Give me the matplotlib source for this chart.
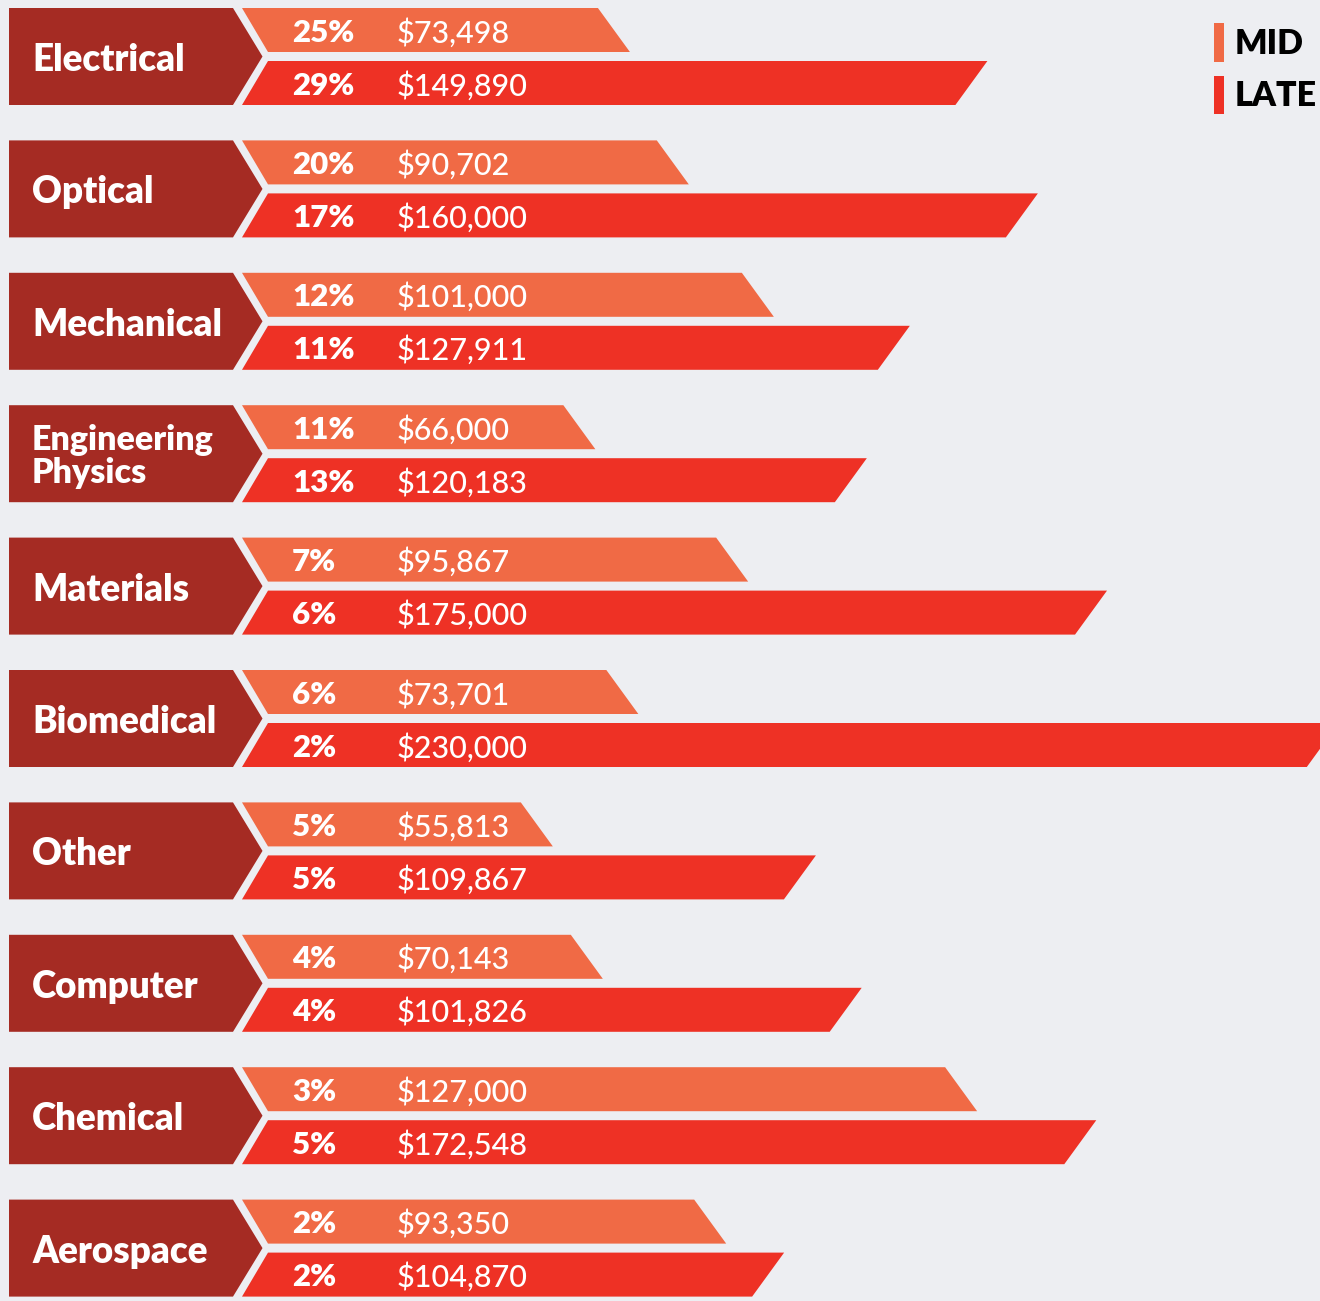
import matplotlib.pyplot as plt
from matplotlib.patches import Polygon, Rectangle

# categories, top to bottom
categories = ['Electrical', 'Optical', 'Mechanical', 'Engineering\nPhysics', 'Materials',
              'Biomedical', 'Other', 'Computer', 'Chemical', 'Aerospace']

# printed labels
mid_pct = ['25%', '20%', '12%', '11%', '7%', '6%', '5%', '4%', '3%', '2%']
late_pct = ['29%', '17%', '11%', '13%', '6%', '2%', '5%', '4%', '5%', '2%']
mid_salary = [73498, 90702, 101000, 66000, 95867, 73701, 55813, 70143, 127000, 93350]
late_salary = [149890, 160000, 127911, 120183, 175000, 230000, 109867, 101826, 172548, 104870]

# bar lengths as drawn in the graphic (in dollars;
# the artwork does not track the printed salaries exactly)
mid_bar = [73600, 86200, 104400, 66200, 98900, 75400, 57100, 67800, 147900, 94200]
late_bar = [150100, 160900, 133500, 124300, 175700, 225300, 113400, 123200, 173400, 106600]

BG = '#EDEEF2'
CAT_COLOR = '#A52B23'
MID_COLOR = '#F06A45'
LATE_COLOR = '#EE3125'

W, H = 1320, 1301
PX = 214.0           # dollars per pixel
ORIGIN_PX = 270      # pixel column of $0
PITCH = 132.4        # pixel height of one category group
TOP_PX = 8


def u(p):
    # pixel offset -> vertical data units (groups)
    return p / PITCH


fig = plt.figure(figsize=(W / 100, H / 100), dpi=100, facecolor=BG)
ax = fig.add_axes([0, 0, 1, 1])
ax.set_facecolor(BG)
ax.set_xlim(-ORIGIN_PX * PX, (W - ORIGIN_PX) * PX)
ax.set_ylim(u(H - TOP_PX), u(-TOP_PX))
ax.axis('off')

slant = 16 * PX
for i, cat in enumerate(categories):
    top = i
    mid_bot = i + u(44)
    late_top = i + u(53)
    bot = i + u(97)
    tip = i + u(48.5)

    # category chevron
    chev = Polygon([(-261 * PX, top), (-37 * PX, top), (-7.5 * PX, tip),
                    (-37 * PX, bot), (-261 * PX, bot)],
                   closed=True, facecolor=CAT_COLOR, edgecolor='none')
    ax.add_patch(chev)
    two_lines = '\n' in cat
    fs = 24.5 if two_lines else 26.5
    ax.text(-238 * PX, (top + bot) / 2 + u(2.5 if two_lines else 3.5), cat,
            color='white', fontsize=fs, fontweight='heavy', family='Lato',
            ha='left', va='center', linespacing=1.05)

    # mid bar
    m = mid_bar[i]
    ax.add_patch(Polygon([(-28 * PX, top), (m - slant, top), (m + slant, mid_bot),
                          (-2 * PX, mid_bot)],
                         closed=True, facecolor=MID_COLOR, edgecolor='none'))
    # late bar
    l = late_bar[i]
    ax.add_patch(Polygon([(-2 * PX, late_top), (l + slant, late_top), (l - slant, bot),
                          (-28 * PX, bot)],
                         closed=True, facecolor=LATE_COLOR, edgecolor='none'))

    for yc, pct, sal in [((top + mid_bot) / 2, mid_pct[i], mid_salary[i]),
                         ((late_top + bot) / 2, late_pct[i], late_salary[i])]:
        ax.text(22 * PX, yc + u(2.5), pct, color='white', fontsize=22.5,
                fontweight='heavy', family='Lato', ha='left', va='center')
        ax.text(127 * PX, yc + u(2.5), f'${sal:,}', color='white', fontsize=22,
                fontweight='medium', family='Lato', ha='left', va='center')

# legend
for yt, yb, col, lab in [(23, 62, MID_COLOR, 'MID'), (76, 114, LATE_COLOR, 'LATE')]:
    ax.add_patch(Rectangle((1214 / W, 1 - yb / H), 10 / W, (yb - yt) / H,
                           transform=ax.transAxes, facecolor=col, edgecolor='none'))
    ax.text(1235 / W, 1 - ((yt + yb) / 2 + 1.5) / H, lab, transform=ax.transAxes,
            color='black', fontsize=24.5, fontweight='heavy', family='Lato',
            ha='left', va='center')

fig.savefig('out.png', dpi=100, facecolor=BG)
